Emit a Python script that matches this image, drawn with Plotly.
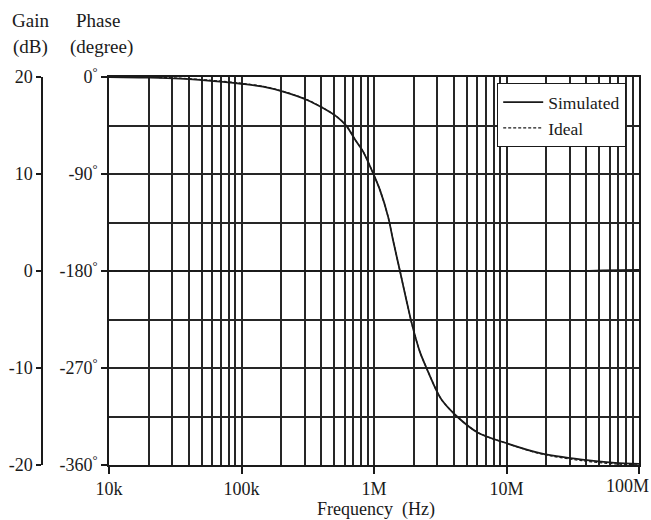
import plotly.graph_objects as go

# ---------------- data ----------------
freq_hz = [1e4, 2.04e4, 3.44e4, 7.25e4, 1.026e5, 1.45e5, 2.06e5, 3.12e5, 4.12e5,
           5.26e5, 6.25e5, 7.19e5, 8.26e5, 9.82e5, 1.11e6, 1.28e6, 1.39e6, 1.57e6,
           1.77e6, 1.94e6, 2.22e6, 2.51e6, 2.99e6, 3.26e6, 4.23e6, 6.09e6, 1.01e7,
           1.79e7, 3.72e7, 6.59e7, 1e8]
phase_sim = [0, -0.6, -1.6, -4.6, -6.5, -9, -13.6, -21.3, -28.8,
             -37, -46, -58, -69, -89, -105, -130, -151, -180,
             -209, -230, -255, -271, -292, -300, -315, -330, -340,
             -349, -355, -358, -359]
phase_ideal = [0, -0.3, -1.1, -4.0, -6.0, -8.6, -13.3, -21.0, -28.6,
               -37, -46, -58, -69, -89, -105, -130, -151, -180,
               -209, -230, -255, -271, -292, -300, -315, -330, -340,
               -349.5, -356, -359, -360]

gain_freq_hz = [1e4, 1e5, 1e6, 1e7, 3.72e7, 5.35e7, 6.59e7, 1e8]
gain_sim = [0, 0, 0, 0, 0, 0.08, 0.1, 0.12]
gain_ideal = [0, 0, 0, 0, 0, 0, 0, 0]

x_tick_vals = [1e4, 1e5, 1e6, 1e7, 1e8]
x_tick_text = ["10k", "100k", "1M", "10M", ""]   # last label drawn as annotation
last_x_label = "100M"
phase_tick_vals = [0, -90, -180, -270, -360]
phase_tick_text = ["0<sup>°</sup>", "-90<sup>°</sup>", "-180<sup>°</sup>",
                   "-270<sup>°</sup>", "-360<sup>°</sup>"]
gain_tick_vals = [20, 10, 0, -10, -20]
gain_tick_text = ["20", "10", "0", "-10", "-20"]

# ---------------- layout geometry ----------------
W, H = 651, 520
px_left, px_right, px_top, px_bottom = 109, 639, 77, 465
xdom = [px_left / W, px_right / W]
ydom = [(H - px_bottom) / H, (H - px_top) / H]

FONT = "Liberation Serif, Times New Roman, serif"
INK = "#1a1a1a"
GRID = "#262626"

minor_x = [m * 10 ** d for d in range(4, 8) for m in range(2, 10)]
minor_phase = [-45, -135, -225, -315]

fig = go.Figure()

fig.add_trace(go.Scatter(x=gain_freq_hz, y=gain_ideal, yaxis="y2", mode="lines",
                         line=dict(color=INK, width=1.3, dash="3px,2px"),
                         showlegend=False, hoverinfo="skip"))
fig.add_trace(go.Scatter(x=gain_freq_hz, y=gain_sim, yaxis="y2", mode="lines",
                         line=dict(color=INK, width=1.6),
                         showlegend=False, hoverinfo="skip"))
fig.add_trace(go.Scatter(x=freq_hz, y=phase_sim, mode="lines", name="Simulated",
                         line=dict(color=INK, width=1.8, shape="spline", smoothing=0.8)))
fig.add_trace(go.Scatter(x=freq_hz, y=phase_ideal, mode="lines", name="Ideal",
                         line=dict(color=INK, width=1.3, dash="3px,2px",
                                   shape="spline", smoothing=0.8)))

fig.update_layout(
    width=W, height=H,
    margin=dict(l=0, r=0, t=0, b=0, autoexpand=False),
    paper_bgcolor="white", plot_bgcolor="white",
    font=dict(family=FONT, size=18, color=INK),
    xaxis=dict(
        type="log", range=[4, 8], domain=xdom, automargin=False,
        tickvals=x_tick_vals, ticktext=x_tick_text,
        ticks="outside", ticklen=7, tickwidth=1.5, tickcolor=INK,
        showgrid=True, gridcolor=GRID, gridwidth=1.5,
        showline=True, linecolor=INK, linewidth=1.5, mirror=True,
        zeroline=False,
        minor=dict(tickvals=minor_x, showgrid=True, gridcolor=GRID,
                   gridwidth=1.5, ticks=""),
        tickfont=dict(family=FONT, size=18, color=INK),
    ),
    yaxis=dict(
        range=[-360, 0], domain=ydom, automargin=False,
        tickvals=phase_tick_vals, ticktext=phase_tick_text,
        ticks="outside", ticklen=6, tickwidth=1.5, tickcolor=INK,
        showgrid=True, gridcolor=GRID, gridwidth=1.5,
        showline=True, linecolor=INK, linewidth=1.5, mirror=True,
        zeroline=False,
        minor=dict(tickvals=minor_phase, showgrid=True, gridcolor=GRID,
                   gridwidth=1.5, ticks=""),
        tickfont=dict(family=FONT, size=18, color=INK),
    ),
    yaxis2=dict(
        range=[-20, 20], overlaying="y", anchor="free", position=42 / W,
        side="left", automargin=False,
        tickvals=gain_tick_vals, ticktext=gain_tick_text,
        ticks="outside", ticklen=5, tickwidth=1.5, tickcolor=INK,
        showgrid=False, zeroline=False,
        showline=True, linecolor=INK, linewidth=1.5,
        tickfont=dict(family=FONT, size=18, color=INK),
    ),
    legend=dict(
        x=497 / W, y=(H - 83) / H, xanchor="left", yanchor="top",
        bgcolor="white", bordercolor=INK, borderwidth=1.2,
        font=dict(family=FONT, size=17.5, color=INK),
        tracegroupgap=0, itemwidth=40,
    ),
    showlegend=True,
)

def label(text, xpx, ypx, size=19):
    fig.add_annotation(text=text, x=xpx / W, y=(H - ypx) / H,
                       xref="paper", yref="paper", xanchor="center",
                       yanchor="middle", showarrow=False,
                       font=dict(family=FONT, size=size, color=INK))

label("Gain", 30, 21)
label("(dB)", 30, 47)
label("Phase", 98, 21)
label("(degree)", 101, 47)
label(last_x_label, 627, 486, size=18)
label("Frequency  (Hz)", 376, 509, size=18)

# remove the default page margin so the 651x520 figure fills the window exactly
fig.write_html("out.html",
               config={"displayModeBar": False},
               post_script="document.body.style.margin='0';"
                           "document.body.style.overflow='hidden';")
